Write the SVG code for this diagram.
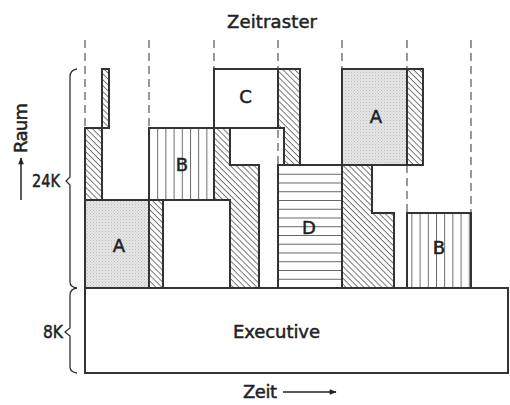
<svg xmlns="http://www.w3.org/2000/svg" width="510" height="405" viewBox="0 0 510 405">
<defs>
<pattern id="hatch" patternUnits="userSpaceOnUse" width="4.2" height="4.2" patternTransform="rotate(45)">
<rect width="4.2" height="4.2" fill="#fff"/>
<line x1="0" y1="0.5" x2="4.2" y2="0.5" stroke="#555" stroke-width="0.8"/>
</pattern>
<pattern id="vlines" patternUnits="userSpaceOnUse" x="149" width="8.2" height="10">
<rect width="8.2" height="10" fill="#fff"/>
<line x1="0.5" y1="0" x2="0.5" y2="10" stroke="#555" stroke-width="0.9"/>
</pattern>
<pattern id="hlines" patternUnits="userSpaceOnUse" y="165" width="10" height="8.75">
<rect width="10" height="8.75" fill="#fff"/>
<line x1="0" y1="0.5" x2="10" y2="0.5" stroke="#555" stroke-width="0.9"/>
</pattern>
<pattern id="dots" patternUnits="userSpaceOnUse" width="3" height="3">
<rect width="3" height="3" fill="#e6e6e6"/>
<rect x="0" y="0" width="1" height="1" fill="#bdbdbd"/>
<rect x="1.5" y="1.5" width="1" height="1" fill="#cacaca"/>
</pattern>
<marker id="arr" viewBox="0 0 10 10" refX="9" refY="5" markerWidth="9" markerHeight="7" markerUnits="userSpaceOnUse" orient="auto">
<path d="M0,1 L10,5 L0,9 Z" fill="#222"/>
</marker>
</defs>
<style>
.grid line{stroke:#555;stroke-width:1.2;stroke-dasharray:8 5}
.blk{stroke:#333;stroke-width:2;stroke-linejoin:miter}
.hat{fill:url(#hatch)}
.vl{fill:url(#vlines)}
.hl{fill:url(#hlines)}
.dt{fill:url(#dots)}
.wh{fill:#fff}
.lbl{font-family:"DejaVu Sans","Liberation Sans",sans-serif;font-size:18px;fill:#222;stroke:#222;stroke-width:0.5;text-anchor:middle}
.ax{font-family:"DejaVu Sans","Liberation Sans",sans-serif;font-size:18px;fill:#222;stroke:#222;stroke-width:0.5}
.brace{fill:none;stroke:#333;stroke-width:1.3}
</style>
<rect width="510" height="405" fill="#fff"/>
<g class="grid" id="grid">
<line x1="85" y1="40" x2="85" y2="128"/>
<line x1="149" y1="40" x2="149" y2="128"/>
<line x1="214" y1="40" x2="214" y2="69"/>
<line x1="278" y1="40" x2="278" y2="69"/>
<line x1="278" y1="130" x2="278" y2="165"/>
<line x1="342" y1="40" x2="342" y2="69"/>
<line x1="407" y1="40" x2="407" y2="69"/>
<line x1="407" y1="165" x2="407" y2="213"/>
<line x1="471" y1="40" x2="471" y2="213"/>
</g>
<g id="executive">
<rect class="blk wh" x="85" y="288" width="423" height="85"/>
<text class="ax" x="233" y="338" textLength="87">Executive</text>
</g>
<g id="A1">
<rect class="blk dt" x="85" y="200" width="64" height="88"/>
<text class="lbl" x="119" y="252">A</text>
</g>
<g id="hatch1">
<rect class="blk hat" x="85" y="128" width="17" height="72"/>
<rect class="blk hat" x="102" y="69" width="7" height="59"/>
</g>
<g id="hatch2">
<rect class="blk hat" x="149" y="200" width="14" height="88"/>
</g>
<g id="white1">
<rect class="blk wh" x="163" y="200" width="67" height="88"/>
</g>
<g id="B1">
<rect class="blk vl" x="149" y="128" width="65" height="72"/>
<text class="lbl" x="182" y="171">B</text>
</g>
<g id="white2">
<path class="blk" fill="none" d="M214,128 L284,128 L284,165"/>
</g>
<g id="hatch3">
<path class="blk hat" d="M214,128 L230,128 L230,165 L259,165 L259,288 L230,288 L230,200 L214,200 Z"/>
</g>
<g id="C">
<rect class="blk wh" x="214" y="69" width="64" height="59"/>
<text class="lbl" x="245.5" y="103">C</text>
</g>
<g id="hatch4">
<path class="blk hat" d="M278,69 L300,69 L300,165 L284,165 L284,128 L278,128 Z"/>
</g>
<g id="D">
<rect class="blk hl" x="278" y="165" width="64" height="123"/>
<text class="lbl" x="309" y="234">D</text>
</g>
<g id="hatch5">
<path class="blk hat" d="M342,165 L372,165 L372,213 L394,213 L394,288 L342,288 Z"/>
</g>
<g id="A2">
<rect class="blk dt" x="342" y="69" width="65" height="96"/>
<text class="lbl" x="376" y="123">A</text>
</g>
<g id="hatch6">
<rect class="blk hat" x="407" y="69" width="16" height="96"/>
</g>
<g id="B2">
<rect class="blk vl" x="407" y="213" width="64" height="75"/>
<text class="lbl" x="439" y="254">B</text>
</g>
<g id="labels">
<text class="ax" x="227" y="28" textLength="90">Zeitraster</text>
<text class="ax" x="32" y="187" textLength="28" lengthAdjust="spacingAndGlyphs">24K</text>
<text class="ax" x="43" y="338" textLength="20" lengthAdjust="spacingAndGlyphs">8K</text>
<text class="ax" transform="translate(27,153) rotate(-90)" textLength="50">Raum</text>
<text class="ax" x="243" y="398" textLength="34">Zeit</text>
</g>
<g id="braces">
<path class="brace" d="M77,69 Q70,70 70,77 L70,177 L66,181 L70,185 L70,282 Q70,287 77,288"/>
<path class="brace" d="M77,288 Q70,289 70,295 L70,328 L65,332 L70,336 L70,367 Q70,372 77,373"/>
</g>
<g id="connectors">
<line x1="21" y1="200" x2="21" y2="158" stroke="#222" stroke-width="1.5" marker-end="url(#arr)"/>
<line x1="283" y1="392" x2="336" y2="392" stroke="#222" stroke-width="1.5" marker-end="url(#arr)"/>
</g>
</svg>
